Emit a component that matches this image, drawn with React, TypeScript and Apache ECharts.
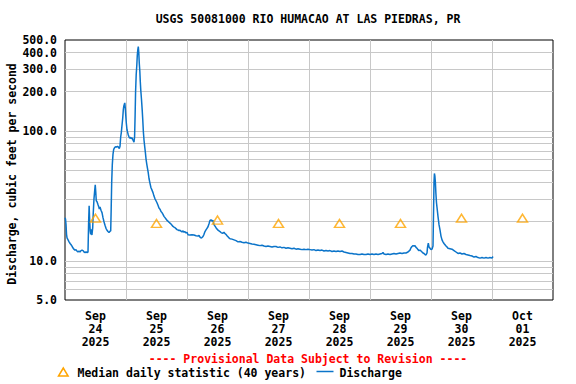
import React, { useEffect, useRef } from "react";
import * as echarts from "echarts";

// Hours since 2025-09-24 00:00 and discharge (cfs)
const hours = [
  0.0, 0.2, 0.4, 0.6, 0.8, 1.2, 1.6, 2.0, 2.4, 2.75, 3.1, 3.5, 3.9, 4.3, 4.7, 5.1, 5.5, 5.9, 6.3, 6.7,
  7.1, 7.5, 7.9, 8.3, 8.7, 9.05, 9.3, 9.5, 9.7, 9.9, 10.1, 10.3, 10.6, 10.9, 11.1, 11.4, 11.7, 11.9, 12.1, 12.3,
  12.6, 13.0, 13.3, 13.5, 13.77, 14.16, 14.56, 14.95, 15.34, 15.74, 16.13, 16.52, 16.92, 17.31, 17.7, 17.98, 18.17, 18.37, 18.61, 18.88,
  19.16, 19.47, 19.87, 20.26, 20.65, 21.05, 21.36, 21.64, 21.91, 22.15, 22.42, 22.7, 22.94, 23.13, 23.33, 23.53, 23.72, 23.92, 24.12, 24.39,
  24.67, 24.9, 25.18, 25.45, 25.77, 26.08, 26.36, 26.63, 26.87, 27.14, 27.38, 27.58, 27.77, 28.01, 28.25, 28.44, 28.64, 28.84, 29.03, 29.23,
  29.43, 29.62, 29.82, 30.09, 30.37, 30.61, 30.84, 31.08, 31.35, 31.63, 31.87, 32.14, 32.42, 32.73, 33.05, 33.44, 33.83, 34.23, 34.62, 35.01,
  35.41, 35.8, 36.19, 36.59, 36.98, 37.37, 37.77, 38.16, 38.56, 38.95, 39.34, 39.74, 40.13, 40.52, 40.92, 41.31, 41.7, 42.1, 42.49, 42.88,
  43.28, 43.67, 44.06, 44.46, 44.85, 45.25, 45.64, 46.03, 46.43, 46.82, 47.21, 47.61, 48.0, 48.39, 49.18, 49.97, 50.75, 51.54, 52.33, 52.72,
  53.11, 53.51, 53.9, 54.29, 54.69, 55.08, 55.47, 55.87, 56.26, 56.66, 57.05, 57.44, 57.84, 58.23, 58.62, 59.02, 59.41, 59.8, 60.2, 60.59,
  60.98, 61.38, 61.77, 62.16, 62.56, 62.95, 63.34, 63.74, 64.13, 64.52, 64.92, 65.7, 66.49, 67.28, 68.07, 68.85, 69.64, 70.43, 71.21, 72.0,
  72.79, 73.57, 74.36, 75.15, 75.93, 76.72, 77.51, 78.3, 79.08, 79.87, 80.66, 81.44, 82.23, 83.02, 83.8, 84.59, 85.38, 86.16, 86.95, 87.74,
  88.53, 89.31, 90.1, 90.89, 91.67, 92.46, 93.25, 94.03, 94.82, 95.61, 96.39, 97.18, 97.97, 98.75, 99.54, 100.33, 101.12, 101.9, 102.69, 103.48,
  104.26, 105.05, 105.84, 106.62, 107.41, 108.2, 108.98, 109.77, 110.56, 111.34, 112.13, 112.92, 113.7, 114.49, 115.28, 116.07, 116.85, 117.64, 118.43, 119.21,
  120.0, 120.79, 121.57, 122.36, 123.15, 123.93, 124.72, 125.11, 125.51, 126.3, 127.08, 127.87, 128.66, 129.44, 130.23, 131.02, 131.8, 132.59, 133.38, 134.16,
  134.95, 135.74, 136.13, 136.52, 136.92, 137.31, 137.7, 138.1, 138.49, 138.88, 139.28, 139.67, 140.07, 140.46, 140.85, 141.25, 141.64, 142.03, 142.43, 142.62,
  142.94, 143.21, 143.61, 144.0, 144.39, 144.79, 145.02, 145.18, 145.34, 145.53, 145.73, 145.93, 146.16, 146.44, 146.75, 147.15, 147.54, 147.93, 148.33, 148.72,
  149.11, 149.51, 149.9, 150.29, 150.69, 151.47, 152.26, 153.05, 153.84, 154.62, 155.41, 156.2, 156.98, 157.77, 158.56, 159.34, 160.13, 160.92, 161.7, 162.49,
  163.28, 164.07, 164.85, 165.64, 166.43, 167.21, 168.0, 168.39,
];

const discharge = [
  21.5, 21.0, 19.0, 16.0, 15.0, 14.5, 14.0, 13.6, 13.3, 13.0, 12.6, 12.3, 12.1, 12.2, 11.9, 11.7, 11.9, 11.7, 12.0, 12.1,
  12.0, 11.7, 11.6, 11.7, 11.6, 11.7, 20.0, 26.5, 20.5, 17.0, 16.0, 17.5, 15.8, 18.0, 23.0, 30.0, 35.0, 38.5, 34.0, 29.0,
  28.5, 27.0, 26.0, 25.0, 26.0, 24.5, 23.5, 21.5, 20.0, 18.8, 17.8, 17.2, 16.8, 16.5, 16.9, 17.0, 25.0, 40.0, 55.0, 66.0,
  72.0, 74.0, 75.5, 75.0, 76.0, 75.0, 73.0, 76.0, 90.0, 97.0, 110.0, 125.0, 145.0, 155.0, 160.0, 164.0, 150.0, 130.0, 115.0, 102.0,
  97.0, 93.0, 90.0, 88.0, 89.0, 87.0, 88.5, 86.0, 84.0, 82.0, 90.0, 130.0, 200.0, 270.0, 320.0, 380.0, 420.0, 445.0, 400.0, 330.0,
  290.0, 240.0, 205.0, 175.0, 145.0, 120.0, 98.0, 85.0, 76.0, 68.0, 61.0, 56.0, 52.0, 48.0, 43.0, 39.5, 36.5, 35.0, 33.5, 31.5,
  30.0, 29.0, 28.0, 26.8, 25.5, 25.0, 24.0, 23.5, 22.8, 22.0, 21.5, 21.0, 20.5, 20.2, 19.8, 19.5, 19.2, 18.8, 18.4, 18.2,
  18.0, 17.7, 17.4, 17.3, 17.1, 17.2, 16.9, 16.7, 17.0, 16.6, 16.8, 16.4, 16.6, 15.9, 15.8, 15.9, 15.8, 15.6, 15.5, 15.7,
  15.2, 15.0, 15.1, 15.4, 16.0, 16.8, 17.3, 17.8, 18.3, 19.3, 20.5, 20.7, 20.2, 20.5, 19.0, 18.5, 18.0, 17.6, 17.2, 17.0,
  16.8, 16.5, 16.4, 16.3, 16.6, 16.2, 16.0, 15.6, 15.3, 15.0, 14.8, 14.7, 14.5, 14.3, 14.0, 14.1, 13.9, 13.8, 13.9, 13.7,
  13.6, 13.5, 13.4, 13.3, 13.2, 13.1, 13.2, 13.0, 12.9, 13.0, 12.9, 12.8, 12.9, 12.9, 12.7, 12.8, 12.6, 12.7, 12.5, 12.6,
  12.5, 12.4, 12.5, 12.3, 12.4, 12.3, 12.2, 12.3, 12.2, 12.3, 12.2, 12.1, 12.2, 12.0, 12.1, 12.0, 12.1, 11.9, 12.0, 11.9,
  12.0, 11.8, 11.9, 11.8, 11.9, 11.8, 11.9, 11.7, 11.6, 11.5, 11.4, 11.4, 11.3, 11.3, 11.2, 11.2, 11.3, 11.2, 11.2, 11.3,
  11.2, 11.3, 11.2, 11.3, 11.2, 11.3, 11.4, 11.6, 11.3, 11.2, 11.3, 11.2, 11.3, 11.4, 11.3, 11.4, 11.5, 11.4, 11.5, 11.5,
  11.7, 12.1, 12.6, 12.9, 13.1, 13.0, 13.1, 12.7, 12.5, 12.2, 12.0, 12.1, 11.9, 11.7, 11.5, 11.4, 11.2, 11.1, 11.5, 12.7,
  13.7, 12.8, 12.5, 12.2, 12.3, 13.0, 25.0, 40.0, 47.0, 45.0, 40.0, 33.0, 28.0, 25.0, 22.0, 19.0, 17.3, 15.5, 14.5, 14.0,
  13.6, 13.3, 13.0, 12.8, 12.5, 12.4, 12.3, 12.0, 11.7, 11.4, 11.5, 11.3, 11.4, 11.2, 11.1, 11.0, 10.9, 10.7, 10.8, 10.6,
  10.5, 10.6, 10.5, 10.6, 10.5, 10.6, 10.5, 10.8,
];

// Median daily statistic at noon of each day
const medianHours = [12, 36, 60, 84, 108, 132, 156, 180];
const medianValues = [21.3, 19.4, 20.6, 19.4, 19.4, 19.4, 21.3, 21.3];

const dayLabels = [
  "Sep\n24\n2025", "Sep\n25\n2025", "Sep\n26\n2025", "Sep\n27\n2025",
  "Sep\n28\n2025", "Sep\n29\n2025", "Sep\n30\n2025", "Oct\n01\n2025",
];
const dayBoundaries = [24, 48, 72, 96, 120, 144, 168];
const yLabelValues = [5, 10, 100, 200, 300, 400, 500];
const yGridValues = [6, 7, 8, 9, 10, 20, 30, 40, 50, 60, 70, 80, 90, 100, 200, 300, 400];

const TITLE = "USGS 50081000 RIO HUMACAO AT LAS PIEDRAS, PR";
const Y_NAME = "Discharge, cubic feet per second";
const PROVISIONAL = "---- Provisional Data Subject to Revision ----";
const LEGEND_MEDIAN = "Median daily statistic (40 years)";
const LEGEND_Q = "Discharge";

const FONT = "DejaVu Sans Mono";
const BLUE = "#0b74c9";
const ORANGE = "#ffa500";

export default function App() {
  const ref = useRef<HTMLDivElement>(null);
  useEffect(() => {
    if (!ref.current) return;
    const chart = echarts.init(ref.current, null, { renderer: "svg" });
    const textBase = { fontFamily: FONT, fontWeight: "bold", fontSize: 11.5, fill: "#000" };
    chart.setOption({
      animation: false,
      backgroundColor: "#fff",
      grid: { left: 65, right: 23, top: 40, bottom: 84, show: true, borderColor: "#000", borderWidth: 1, backgroundColor: "transparent" },
      xAxis: {
        type: "value",
        min: 0,
        max: 192,
        axisLine: { show: false },
        axisTick: { show: false, customValues: dayBoundaries },
        splitLine: { show: true, lineStyle: { color: "#c8c8c8", width: 1 } },
        axisLabel: {
          customValues: medianHours,
          formatter: (v: number) => dayLabels[Math.round((v - 12) / 24)] ?? "",
          fontFamily: FONT,
          fontWeight: "bold",
          fontSize: 11.5,
          color: "#000",
          lineHeight: 13,
          margin: 9,
        },
      },
      yAxis: {
        type: "log",
        logBase: 10,
        min: 5,
        max: 500,
        axisLine: { show: false },
        axisTick: { show: false, customValues: yGridValues },
        splitLine: { show: true, lineStyle: { color: "#c8c8c8", width: 1 } },
        minorSplitLine: { show: false },
        axisLabel: {
          customValues: yLabelValues,
          formatter: (v: number) => Number(v).toFixed(1),
          fontFamily: FONT,
          fontWeight: "bold",
          fontSize: 11.5,
          color: "#000",
          margin: 8,
        },
      },
      series: [
        {
          type: "line",
          name: LEGEND_Q,
          data: hours.map((h, i) => [h, discharge[i]]),
          showSymbol: false,
          symbol: "none",
          lineStyle: { color: BLUE, width: 1.5 },
          itemStyle: { color: BLUE },
          z: 2,
        },
        {
          type: "scatter",
          name: LEGEND_MEDIAN,
          data: medianHours.map((h, i) => [h, medianValues[i]]),
          symbol: "triangle",
          symbolSize: [10, 8],
          itemStyle: { color: "rgba(0,0,0,0)", borderColor: ORANGE, borderWidth: 1.5 },
          z: 3,
        },
      ],
      graphic: [
        { type: "text", x: 308, y: 19, style: { ...textBase, text: TITLE, textAlign: "center", textVerticalAlign: "middle" } },
        { type: "text", x: 12, y: 174, rotation: Math.PI / 2, style: { ...textBase, text: Y_NAME, textAlign: "center", textVerticalAlign: "middle" } },
        { type: "text", x: 308, y: 359, style: { ...textBase, fill: "#ff0000", text: PROVISIONAL, textAlign: "center", textVerticalAlign: "middle" } },
        { type: "polygon", shape: { points: [[63.3, 368], [58.5, 376], [68.1, 376]] }, style: { fill: "none", stroke: ORANGE, lineWidth: 1.5 } },
        { type: "text", x: 77.5, y: 372.5, style: { ...textBase, text: LEGEND_MEDIAN, textAlign: "left", textVerticalAlign: "middle" } },
        { type: "line", shape: { x1: 316.5, y1: 371.5, x2: 333.5, y2: 371.5 }, style: { stroke: BLUE, lineWidth: 1.5 } },
        { type: "text", x: 339.5, y: 372.5, style: { ...textBase, text: LEGEND_Q, textAlign: "left", textVerticalAlign: "middle" } },
      ],
    });
    return () => chart.dispose();
  }, []);
  return <div ref={ref} style={{ width: 576, height: 384, position: "absolute", left: 0, top: 0 }} />;
}
